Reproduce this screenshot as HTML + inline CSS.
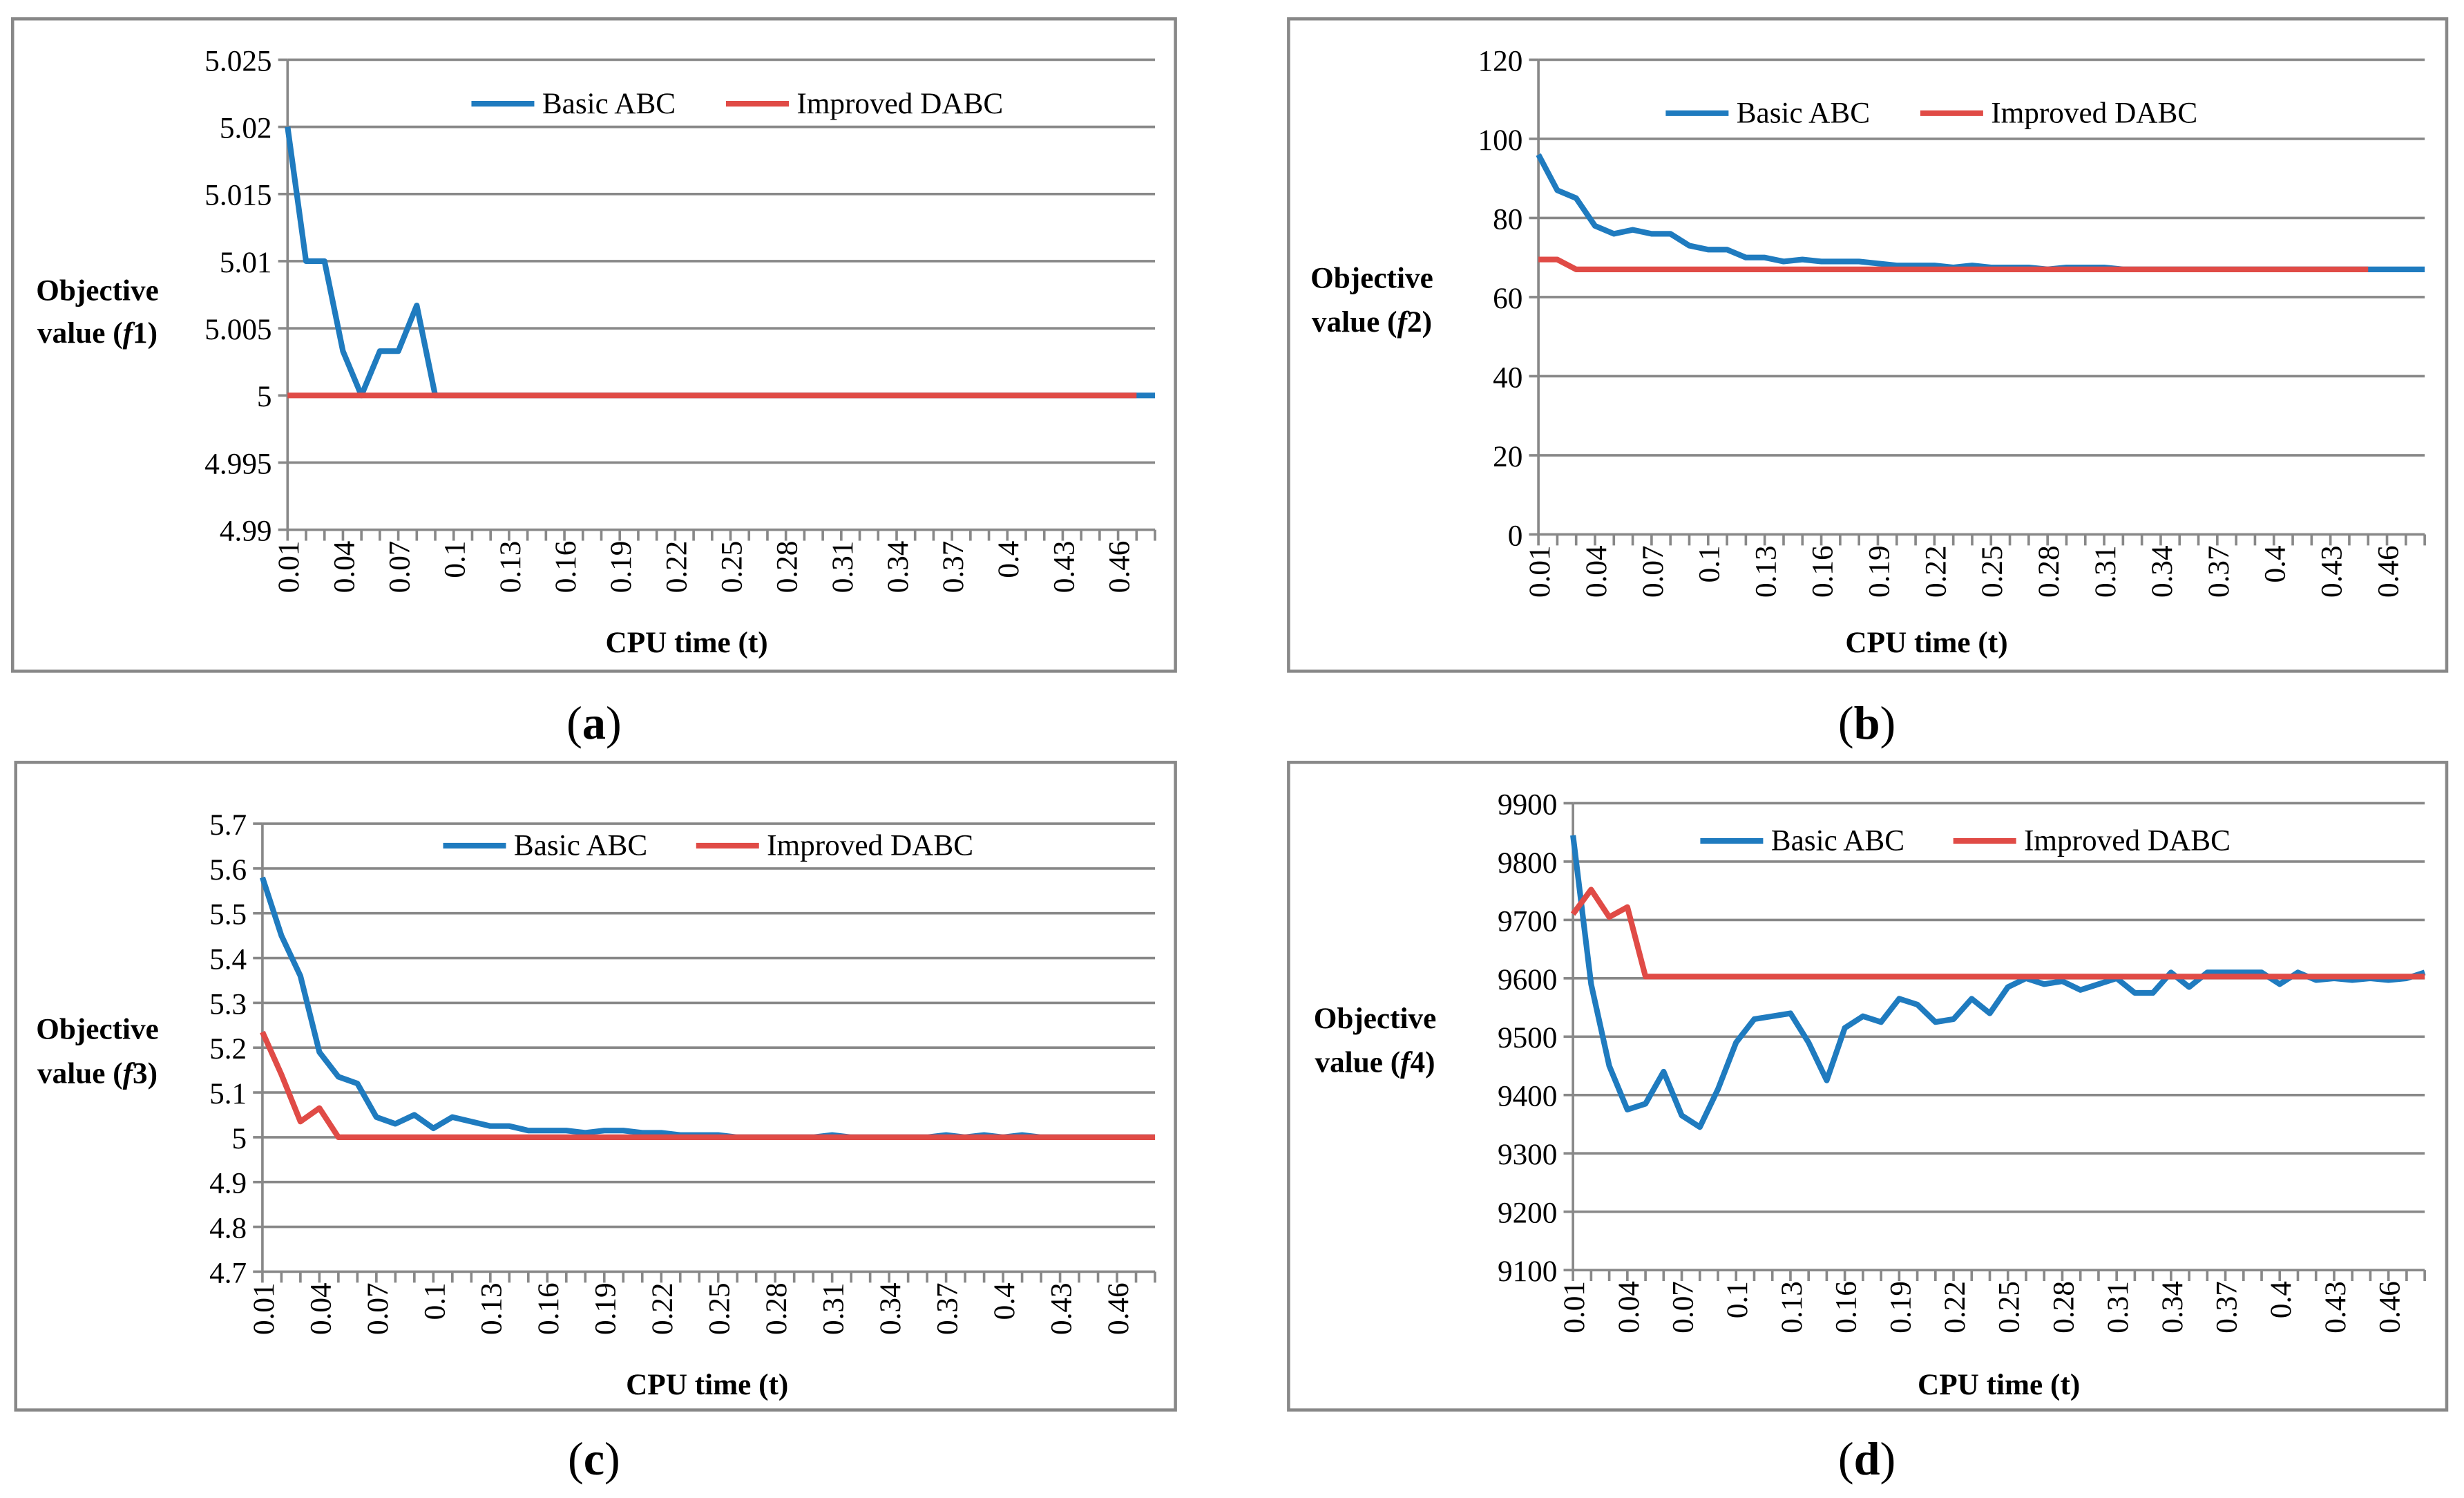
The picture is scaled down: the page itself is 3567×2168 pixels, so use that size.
<!DOCTYPE html>
<html><head><meta charset="utf-8"><style>
html,body{margin:0;padding:0;background:#fff}
svg{display:block}
svg text{font-family:"Liberation Serif","DejaVu Serif","Noto Serif CJK SC",serif;fill:#000}
</style></head><body>
<svg id="fig" width="3567" height="2168" viewBox="0 0 1568 953" preserveAspectRatio="none" xmlns="http://www.w3.org/2000/svg"></svg>
<script>
const categories = [];
for (let i = 1; i <= 48; i++) categories.push((i/100).toFixed(2).replace(/0+$/,'').replace(/\.$/,''));
const tickLabelsA = ["4.99","4.995","5","5.005","5.01","5.015","5.02","5.025"];
const tickValsA = [4.99,4.995,5,5.005,5.01,5.015,5.02,5.025];
const basicA = [5.02,5.01,5.01,5.0033,5.0,5.0033,5.0033,5.0067,5.0,5,5,5,5,5,5,5,5,5,5,5,5,5,5,5,5,5,5,5,5,5,5,5,5,5,5,5,5,5,5,5,5,5,5,5,5,5,5,5];
const improvedA = [5,5,5,5,5,5,5,5,5,5,5,5,5,5,5,5,5,5,5,5,5,5,5,5,5,5,5,5,5,5,5,5,5,5,5,5,5,5,5,5,5,5,5,5,5,5,5];
const tickValsB = [0,20,40,60,80,100,120];
const tickLabelsB = ["0","20","40","60","80","100","120"];
const basicB = [96,87,85,78,76,77,76,76,73,72,72,70,70,69,69.5,69,69,69,68.5,68,68,68,67.5,68,67.5,67.5,67.5,67,67.5,67.5,67.5,67,67,67,67,67,67,67,67,67,67,67,67,67,67,67,67,67];
const improvedB = [69.5,69.5,67,67,67,67,67,67,67,67,67,67,67,67,67,67,67,67,67,67,67,67,67,67,67,67,67,67,67,67,67,67,67,67,67,67,67,67,67,67,67,67,67,67,67];
const tickValsC = [4.7,4.8,4.9,5,5.1,5.2,5.3,5.4,5.5,5.6,5.7];
const tickLabelsC = ["4.7","4.8","4.9","5","5.1","5.2","5.3","5.4","5.5","5.6","5.7"];
const basicC = [5.58,5.45,5.36,5.19,5.135,5.12,5.045,5.03,5.05,5.02,5.045,5.035,5.025,5.025,5.015,5.015,5.015,5.01,5.015,5.015,5.01,5.01,5.005,5.005,5.005,5,5,5,5,5,5.005,5,5,5,5,5,5.005,5,5.005,5,5.005,5,5,5,5,5,5,5];
const improvedC = [5.235,5.14,5.035,5.065,5,5,5,5,5,5,5,5,5,5,5,5,5,5,5,5,5,5,5,5,5,5,5,5,5,5,5,5,5,5,5,5,5,5,5,5,5,5,5,5,5,5,5,5];
const tickValsD = [9100,9200,9300,9400,9500,9600,9700,9800,9900];
const tickLabelsD = ["9100","9200","9300","9400","9500","9600","9700","9800","9900"];
const basicD = [9845,9590,9450,9375,9385,9440,9365,9345,9410,9490,9530,9535,9540,9490,9425,9515,9535,9525,9565,9555,9525,9530,9565,9540,9585,9600,9590,9595,9580,9590,9600,9575,9575,9610,9585,9610,9610,9610,9610,9590,9610,9597,9600,9597,9600,9597,9600,9610];
const improvedD = [9710,9752,9705,9722,9603,9603,9603,9603,9603,9603,9603,9603,9603,9603,9603,9603,9603,9603,9603,9603,9603,9603,9603,9603,9603,9603,9603,9603,9603,9603,9603,9603,9603,9603,9603,9603,9603,9603,9603,9603,9603,9603,9603,9603,9603,9603,9603,9603];

const NS = "http://www.w3.org/2000/svg";
const svg = document.getElementById('fig');
function mk(tag, attrs, parent, text) {
  const e = document.createElementNS(NS, tag);
  for (const k in attrs) e.setAttribute(k, attrs[k]);
  if (text !== undefined) e.textContent = text;
  (parent || svg).appendChild(e);
  return e;
}

const panels = [
  {id:'a', box:[8,12,740,415], x0:183, x1:735, yTop:38, yBot:337, ticks:tickValsA, labels:tickLabelsA, blue:basicA, red:improvedA,
   leg:[300,66,462], title:[62,185,212], f:'1', cap:[378,460], xt:[437,409]},
  {id:'b', box:[820,12,737,415], x0:979, x1:1543, yTop:38, yBot:340, ticks:tickValsB, labels:tickLabelsB, blue:basicB, red:improvedB,
   leg:[1060,72,1222], title:[873,177,205], f:'2', cap:[1188,460], xt:[1226,409]},
  {id:'c', box:[10,485,738,412], x0:167, x1:735, yTop:524, yBot:809, ticks:tickValsC, labels:tickLabelsC, blue:basicC, red:improvedC,
   leg:[282,538,443], title:[62,655,683], f:'3', cap:[378,928], xt:[450,881]},
  {id:'d', box:[820,485,737,412], x0:1001, x1:1543, yTop:511, yBot:808, ticks:tickValsD, labels:tickLabelsD, blue:basicD, red:improvedD,
   leg:[1082,535,1243], title:[875,648,676], f:'4', cap:[1188,928], xt:[1272,881]}
];

panels.forEach(p => {
  const g = mk('g', {});
  
  
  const fr = mk('rect', {x:p.box[0], y:p.box[1], width:p.box[2], height:p.box[3], fill:'#fff', stroke:'#888', 'stroke-width':2}, g);
  
  
  const yMin = p.ticks[0], yMax = p.ticks[p.ticks.length-1];
  const Y = v => p.yBot - (v - yMin) / (yMax - yMin) * (p.yBot - p.yTop);
  const X = i => p.x0 + i * (p.x1 - p.x0) / (categories.length - 1);
  p.ticks.forEach((t, i) => {
    const gl = mk('line', {x1:p.x0, x2:p.x1, y1:Y(t), y2:Y(t), stroke:'#888', 'stroke-width':1.6}, g);
    
    
    mk('line', {x1:p.x0-6, x2:p.x0, y1:Y(t), y2:Y(t), stroke:'#888', 'stroke-width':1.6}, g);
    const tl = mk('text', {x:p.x0-10, y:Y(t)+7, 'text-anchor':'end', 'font-size':19}, g, p.labels[i]);
    
    
  });
  const ya = mk('line', {x1:p.x0, x2:p.x0, y1:p.yTop, y2:p.yBot, stroke:'#888', 'stroke-width':1.6}, g);
  
  
  categories.forEach((c, i) => {
    mk('line', {x1:X(i), x2:X(i), y1:p.yBot, y2:p.yBot+7, stroke:'#888', 'stroke-width':1.6}, g);
    if (i % 3 === 0) {
      const tx = X(i) + 7, ty = p.yBot + 7;
      const tl = mk('text', {x:tx, y:ty, 'text-anchor':'end', 'font-size':19, transform:`rotate(-90 ${tx} ${ty})`}, g, c);
      
      
    }
  });
  const pts = arr => arr.map((v, i) => X(i).toFixed(2) + ',' + Y(v).toFixed(2)).join(' ');
  const bl = mk('polyline', {points:pts(p.blue), fill:'none', stroke:'#1f7bbf', 'stroke-width':3.6, 'stroke-linejoin':'round'}, g);
  
  
  const rl = mk('polyline', {points:pts(p.red), fill:'none', stroke:'#e04b46', 'stroke-width':3.6, 'stroke-linejoin':'round'}, g);
  
  
  const l1 = mk('line', {x1:p.leg[0], x2:p.leg[0]+40, y1:p.leg[1], y2:p.leg[1], stroke:'#1f7bbf', 'stroke-width':3.6}, g);
  
  
  const t1 = mk('text', {x:p.leg[0]+45, y:p.leg[1]+6, 'font-size':19}, g, 'Basic ABC');
  
  
  const l2 = mk('line', {x1:p.leg[2], x2:p.leg[2]+40, y1:p.leg[1], y2:p.leg[1], stroke:'#e04b46', 'stroke-width':3.6}, g);
  
  
  const t2 = mk('text', {x:p.leg[2]+45, y:p.leg[1]+6, 'font-size':19}, g, 'Improved DABC');
  
  
  const yt = mk('text', {x:p.title[0], y:p.title[1]+6, 'text-anchor':'middle', 'font-size':19, 'font-weight':'bold'}, g, 'Objective');
  
  
  const yt2 = mk('text', {x:p.title[0], y:p.title[2]+6, 'text-anchor':'middle', 'font-size':19, 'font-weight':'bold'}, g);
  
  
  mk('tspan', {}, yt2, 'value (');
  mk('tspan', {'font-style':'italic'}, yt2, 'f');
  mk('tspan', {}, yt2, p.f + ')');
  const xt = mk('text', {x:p.xt[0], y:p.xt[1]+6, 'text-anchor':'middle', 'font-size':19, 'font-weight':'bold'}, g, 'CPU time (t)');
  
  
  const cp = mk('text', {x:p.cap[0], y:p.cap[1]+10, 'text-anchor':'middle', 'font-size':30}, g);
  
  
  mk('tspan', {}, cp, '(');
  mk('tspan', {'font-weight':'bold'}, cp, p.id);
  mk('tspan', {}, cp, ')');
});
</script>
</body></html>
